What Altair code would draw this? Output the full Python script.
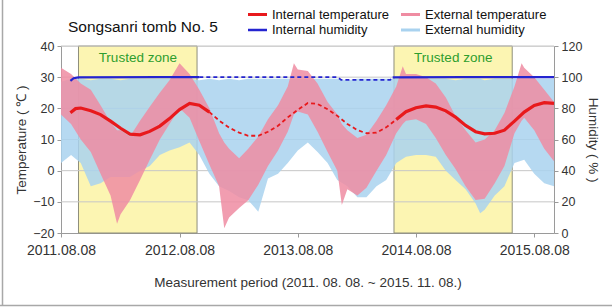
import altair as alt
import pandas as pd

# ---------------- data ----------------
# external temperature envelope (deg C), monthly plus visible extreme spikes
ext_temp_dates = [
    "2011-08-08", "2011-09-08", "2011-10-08", "2011-11-08", "2011-12-08",
    "2012-01-08", "2012-01-28", "2012-02-08", "2012-03-08", "2012-04-08",
    "2012-05-08", "2012-06-08", "2012-07-08", "2012-08-08", "2012-09-08",
    "2012-10-08", "2012-11-08", "2012-12-08", "2012-12-24", "2013-01-08",
    "2013-02-08", "2013-03-08", "2013-04-08", "2013-05-08", "2013-06-08",
    "2013-07-08", "2013-07-27", "2013-08-08", "2013-09-08", "2013-10-08",
    "2013-11-08", "2013-12-08", "2013-12-22", "2014-01-08", "2014-02-08",
    "2014-03-08", "2014-04-08", "2014-05-08", "2014-06-08", "2014-06-28",
    "2014-07-08", "2014-08-08", "2014-09-08", "2014-10-08", "2014-11-08",
    "2014-12-08", "2015-01-08", "2015-02-08", "2015-03-08", "2015-04-08",
    "2015-05-08", "2015-06-08", "2015-06-30", "2015-07-08", "2015-08-08",
    "2015-09-08", "2015-10-08",
]
ext_temp_hi = [33, 31, 28, 26, 21,
               15.5, 13, 13, 11, 16,
               20.5, 25, 29, 34.5, 31,
               26, 20, 12, 9, 7,
               4, 7, 11, 16.5, 21,
               27, 34.5, 32.5, 32, 28,
               22, 18, 15, 13, 10.5,
               11.5, 16, 21, 27, 33.5,
               31, 31, 30, 28, 23.5,
               17.5, 13, 9, 10, 13,
               18.5, 27, 34.5, 33, 30,
               26, 22]
ext_temp_lo = [18, 15, 10, 6, -1,
               -8, -17, -14, -9.5, -3,
               3.5, 10, 15, 20, 17,
               9.5, 2, -5, -18.5, -15,
               -12, -9.5, -4.5, 1.5, 6.5,
               12.5, 18, 19, 18, 12.5,
               6, 0, -11, -6, -8,
               -5.5, 0, 5, 12, 15,
               16, 16.5, 15, 10.5, 5,
               0.5, -5, -9.4, -9, -4,
               1.5, 12, 16, 17, 13,
               7, 3]

# external humidity envelope (%)
ext_hum_dates = [
    "2011-08-08", "2011-09-08", "2011-10-08", "2011-11-08", "2011-12-08",
    "2012-01-08", "2012-02-08", "2012-03-08", "2012-04-08", "2012-05-08",
    "2012-06-08", "2012-07-08", "2012-08-08", "2012-09-08", "2012-10-08",
    "2012-11-08", "2012-12-08", "2013-01-08", "2013-02-08", "2013-03-08",
    "2013-04-08", "2013-05-08", "2013-06-08", "2013-07-08", "2013-08-08",
    "2013-09-08", "2013-10-08", "2013-11-08", "2013-12-08", "2014-01-08",
    "2014-02-08", "2014-03-08", "2014-04-08", "2014-05-08", "2014-06-08",
    "2014-07-08", "2014-08-08", "2014-09-08", "2014-10-08", "2014-11-08",
    "2014-12-08", "2015-01-08", "2015-02-08", "2015-02-22", "2015-03-08",
    "2015-04-08", "2015-05-08", "2015-06-08", "2015-07-08", "2015-08-08",
    "2015-09-08", "2015-10-08",
]
ext_hum_hi = [97, 99, 99, 98, 99, 99, 98, 99, 99, 99, 99, 99, 99, 99, 98,
              99, 98, 99, 98, 99, 99, 99, 99, 99, 99, 99, 99, 99, 99, 98,
              99, 99, 99, 99, 99, 99, 99, 99, 99, 99, 98, 99, 99, 99, 98,
              99, 99, 99, 99, 99, 99, 99]
ext_hum_lo = [45, 50, 45, 30, 32, 36, 36, 36, 40, 43, 50, 53, 55, 58, 50,
              38, 30, 27, 23, 21, 13.7, 35, 38, 45, 53, 58, 52, 45, 34, 30,
              23, 23, 30, 34, 45, 49, 50, 50, 49, 40, 34, 28, 19, 12.6, 15,
              24, 30, 45, 47, 38, 32, 30]

# internal temperature (deg C)
int_temp_dates = [
    "2011-09-06", "2011-09-22", "2011-10-08", "2011-11-08", "2011-12-08",
    "2012-01-08", "2012-02-08", "2012-03-08", "2012-04-08", "2012-05-08",
    "2012-06-08", "2012-07-08", "2012-08-08", "2012-09-08", "2012-10-08",
    "2012-11-08", "2012-12-08", "2013-01-08", "2013-02-08", "2013-03-08",
    "2013-04-08", "2013-05-08", "2013-06-08", "2013-07-08", "2013-08-08",
    "2013-09-08", "2013-10-08", "2013-11-08", "2013-12-08", "2014-01-08",
    "2014-02-08", "2014-03-08", "2014-04-08", "2014-05-08", "2014-06-08",
    "2014-07-08", "2014-08-08", "2014-09-08", "2014-10-08", "2014-11-08",
    "2014-12-08", "2015-01-08", "2015-02-08", "2015-03-08", "2015-04-08",
    "2015-05-08", "2015-06-08", "2015-07-08", "2015-08-08", "2015-09-08",
    "2015-10-08",
]
int_temp = [18.6, 19.9, 20.1, 19.2, 18.0, 15.9, 13.6, 11.7, 11.5, 12.6, 14.3,
            16.7, 19.6, 21.6, 21.0, 18.8, 16.1, 13.8, 12.2, 11.2, 11.2, 12.5,
            14.4, 17.1, 19.5, 21.7, 21.4, 19.7, 17.6, 15.0, 13.0, 12.0, 12.2,
            13.9, 16.4, 18.9, 20.2, 20.8, 20.4, 19.2, 17.2, 14.5, 12.5, 11.8,
            12.0, 13.0, 15.9, 18.8, 20.9, 21.8, 21.6]
temp_dash_from, temp_dash_to = "2012-11-08", "2014-06-08"

# internal humidity (%)
int_hum_dates = ["2011-09-06", "2011-09-16", "2011-10-01", "2012-06-08",
                 "2012-10-08", "2013-06-08", "2013-12-08", "2013-12-20",
                 "2014-05-20", "2014-05-28", "2015-01-08", "2015-10-08"]
int_hum = [97.6, 99.3, 99.9, 100, 100, 100, 100, 98.2, 98.2, 99.9, 100, 100]
hum_dash_from, hum_dash_to = "2012-10-08", "2014-05-28"

# trusted zones
zone_start = ["2011-10-01", "2014-06-01"]
zone_end = ["2012-10-01", "2015-06-01"]
zone_mid = ["2012-04-01", "2014-12-01"]
zone_label = ["Trusted zone", "Trusted zone"]

temp_ticks = [-20, -10, 0, 10, 20, 30, 40]
hum_ticks = [0, 20, 40, 60, 80, 100, 120]
year_ticks = [2011, 2012, 2013, 2014, 2015]

# ---------------- tables ----------------
df_et = pd.DataFrame({"date": ext_temp_dates, "hi": ext_temp_hi, "lo": ext_temp_lo})
df_eh = pd.DataFrame({"date": ext_hum_dates, "hi": ext_hum_hi, "lo": ext_hum_lo})


def split(dates, vals, d1, d2):
    df = pd.DataFrame({"date": dates, "v": vals})
    a = df[df.date <= d1].assign(part="a")
    m = df[(df.date >= d1) & (df.date <= d2)].assign(part="dash")
    b = df[df.date >= d2].assign(part="b")
    return pd.concat([a, m, b], ignore_index=True)


df_it = split(int_temp_dates, int_temp, temp_dash_from, temp_dash_to)
df_ih = split(int_hum_dates, int_hum, hum_dash_from, hum_dash_to)
df_zone = pd.DataFrame({"start": zone_start, "end": zone_end,
                        "mid": zone_mid, "label": zone_label})
df_grid = pd.DataFrame({"v": temp_ticks[1:]})
one = pd.DataFrame({"k": [0]})

# ---------------- scales & axes ----------------
FONT = "Liberation Sans"
W, H = 493, 187
GRAY = "#9a9a9a"
TXT = "#333333"

xscale = alt.Scale(type="utc", domain=[
    alt.DateTime(year=2011, month=8, date=8, utc=True),
    alt.DateTime(year=2015, month=10, date=8, utc=True)])
xaxis = alt.Axis(
    values=[alt.DateTime(year=y, month=8, date=8, utc=True) for y in year_ticks],
    format="%Y.%m.%d", labelFlush=False, labelOverlap=False, grid=False,
    labelFont=FONT, labelFontSize=14, labelColor=TXT, labelPadding=6,
    tickSize=4, tickColor=GRAY, domainColor=GRAY,
    title="Measurement period (2011. 08. 08. ~ 2015. 11. 08.)",
    titleFont=FONT, titleFontSize=13.5, titleFontWeight="normal",
    titleColor=TXT, titleX=W / 2, titleY=49, titleBaseline="middle",
    titleAlign="center")

tscale = alt.Scale(domain=[-20, 40], nice=False, zero=False)
hscale = alt.Scale(domain=[0, 120], nice=False, zero=False)
taxis = alt.Axis(orient="left", values=temp_ticks, grid=False, tickSize=4,
                 tickColor=GRAY, domainColor=GRAY, labelFont=FONT,
                 labelFontSize=12.5, labelColor=TXT, labelPadding=3,
                 title="Temperature ( ℃ )", titleFont=FONT, titleFontSize=13.5,
                 titleFontWeight="normal", titleColor=TXT, titleAngle=270,
                 titleX=-40, titleY=H / 2, titleAlign="center",
                 titleBaseline="middle")
haxis = alt.Axis(orient="right", values=hum_ticks, grid=False, tickSize=4,
                 tickColor=GRAY, domainColor=GRAY, labelFont=FONT,
                 labelFontSize=12.5, labelColor=TXT, labelPadding=3,
                 title="Humidity ( % )", titleFont=FONT, titleFontSize=13.5,
                 titleFontWeight="normal", titleColor=TXT, titleAngle=90,
                 titleX=38, titleY=H / 2, titleAlign="center",
                 titleBaseline="middle")


def X(field):
    return alt.X(field, scale=xscale, axis=xaxis)


RED = "#e8191c"
BLUE = "#2424d0"
PINK = "#ef8ca2"
LBLUE = "#a9d2ef"

zones = alt.Chart(df_zone).mark_rect(
    fill="#fcf5b2", stroke="#8e8e7c", strokeWidth=1).encode(
    x=X("start:T"), x2="end:T", y=alt.value(0), y2=alt.value(H))

grid = alt.Chart(df_grid).mark_rule(color="#c6c6c6", strokeWidth=1).encode(
    y=alt.Y("v:Q", scale=tscale, axis=None))

ext_h = alt.Chart(df_eh).mark_area(color=LBLUE, opacity=0.85).encode(
    x=X("date:T"), y=alt.Y("lo:Q", scale=hscale, axis=haxis), y2="hi:Q")

ext_t = alt.Chart(df_et).mark_area(color=PINK, opacity=0.85).encode(
    x=X("date:T"), y=alt.Y("lo:Q", scale=tscale, axis=taxis), y2="hi:Q")

it_solid = alt.Chart(df_it).transform_filter("datum.part != 'dash'").mark_line(
    color=RED, strokeWidth=3.2).encode(
    x=X("date:T"), y=alt.Y("v:Q", scale=tscale, axis=None), detail="part:N")
it_dash = alt.Chart(df_it).transform_filter("datum.part == 'dash'").mark_line(
    color=RED, strokeWidth=1.8, strokeDash=[4, 3]).encode(
    x=X("date:T"), y=alt.Y("v:Q", scale=tscale, axis=None), detail="part:N")

ih_solid = alt.Chart(df_ih).transform_filter("datum.part != 'dash'").mark_line(
    color=BLUE, strokeWidth=2.2).encode(
    x=X("date:T"), y=alt.Y("v:Q", scale=hscale, axis=None), detail="part:N")
ih_dash = alt.Chart(df_ih).transform_filter("datum.part == 'dash'").mark_line(
    color=BLUE, strokeWidth=1.8, strokeDash=[4, 3]).encode(
    x=X("date:T"), y=alt.Y("v:Q", scale=hscale, axis=None), detail="part:N")

zone_txt = alt.Chart(df_zone).mark_text(
    font=FONT, fontSize=13.5, color="#2e9e2e", baseline="middle").encode(
    x=X("mid:T"), y=alt.value(12), text="label:N")

title = alt.Chart(one).mark_text(
    text="Songsanri tomb No. 5", font=FONT, fontSize=15.5, color="#111111",
    align="left", baseline="middle").encode(x=alt.value(7), y=alt.value(-19))

legend_items = [
    ("Internal temperature", RED, 3, 187, -31.5),
    ("Internal humidity", BLUE, 2.5, 187, -16),
    ("External temperature", PINK, 3, 340, -31.5),
    ("External humidity", LBLUE, 3, 340, -16),
]
legend_layers = []
for name, col, sw, lx, ly in legend_items:
    legend_layers.append(alt.Chart(one).mark_rule(color=col, strokeWidth=sw).encode(
        x=alt.value(lx), x2=alt.value(lx + 19), y=alt.value(ly)))
    legend_layers.append(alt.Chart(one).mark_text(
        text=name, font=FONT, fontSize=13, color="#111111", align="left",
        baseline="middle").encode(x=alt.value(lx + 24), y=alt.value(ly)))

frame_left = alt.Chart(one).mark_rule(color="#a8a8a8", strokeWidth=1.5).encode(
    x=alt.value(-58.5), y=alt.value(-46), y2=alt.value(H + 73))
frame_bottom = alt.Chart(one).mark_rule(color="#a8a8a8", strokeWidth=1.5).encode(
    x=alt.value(-61), x2=alt.value(W + 58), y=alt.value(H + 72.5))

chart = alt.layer(
    zones, grid, ext_h, ext_t, it_dash, it_solid, ih_dash, ih_solid,
    zone_txt, title, *legend_layers, frame_left, frame_bottom,
).resolve_scale(y="independent").properties(
    width=W, height=H,
    autosize=alt.AutoSizeParams(type="none"),
    padding={"left": 61, "top": 46, "right": 58, "bottom": 75},
).configure_view(stroke=None).configure(font=FONT, background="white")

chart.save("out.html", embed_options={"renderer": "svg", "actions": False})
